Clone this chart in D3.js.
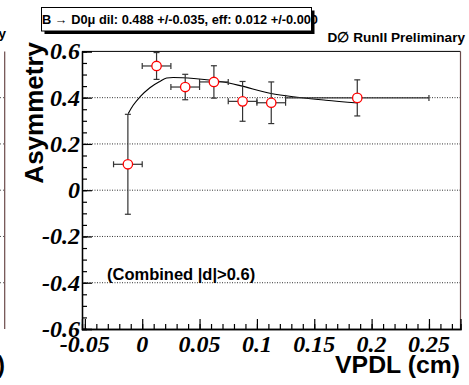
<!DOCTYPE html>
<html><head><meta charset="utf-8">
<script src="https://cdn.jsdelivr.net/npm/d3@7/dist/d3.min.js"></script>
<style>body{margin:0;background:#fff}svg{display:block}</style>
</head><body>
<script>
// ---- data ----
const binCenter = [-0.0125, 0.0125, 0.0375, 0.0625, 0.0875, 0.1125, 0.1875];
const binHalfWidth = [0.0125, 0.0125, 0.0125, 0.0125, 0.0125, 0.0125, 0.0625];
const asymmetry = [0.112, 0.537, 0.446, 0.468, 0.384, 0.378, 0.399];
const asymErr = [0.216, 0.058, 0.055, 0.070, 0.086, 0.090, 0.078];
const fitX = [-0.0122, -0.0079, -0.002, 0.0067, 0.0154, 0.0213, 0.027, 0.045, 0.0623, 0.0765, 0.0853, 0.1123, 0.135, 0.16, 0.188];
const fitY = [0.331, 0.367, 0.403, 0.443, 0.470, 0.485, 0.487, 0.483, 0.474, 0.462, 0.452, 0.418, 0.402, 0.389, 0.377];
const xTickValues = [-0.05, 0, 0.05, 0.1, 0.15, 0.2, 0.25];
const xTickLabels = ["-0.05", "0", "0.05", "0.1", "0.15", "0.2", "0.25"];
const yTickValues = [-0.6, -0.4, -0.2, 0, 0.2, 0.4, 0.6];
const yTickLabels = ["-0.6", "-0.4", "-0.2", "0", "0.2", "0.4", "0.6"];
const gridValues = [-0.4, -0.2, 0, 0.2, 0.4];
const titleText = "B \u2192 D0\u03bc dil: 0.488 +/-0.035, eff: 0.012 +/-0.000";
const expText = "D\u2205 RunII Preliminary";
const yTitle = "Asymmetry";
const xTitle = "VPDL (cm)";
const noteText = "(Combined |d|>0.6)";

const W = 469, H = 385;
const svg = d3.select("body").append("svg").attr("width", W).attr("height", H);
const x = d3.scaleLinear().domain([-0.0525, 0.2775]).range([82, 460.5]);
const y = d3.scaleLinear().domain([-0.6, 0.6]).range([329, 51.4]);
const sans = "'Liberation Sans', Arial, Helvetica, sans-serif";
const serif = "'Liberation Serif', 'Times New Roman', serif";

// left neighbour panel remnants
svg.append("line").attr("x1", 4.7).attr("x2", 4.7).attr("y1", y(0.6)).attr("y2", y(-0.6))
  .attr("stroke", "#6b4a4a").attr("stroke-width", 1.2);
gridValues.forEach(v => {
  svg.append("line").attr("x1", 0).attr("x2", 4).attr("y1", y(v)).attr("y2", y(v))
    .attr("stroke", "#555").attr("stroke-dasharray", "1,2");
});
svg.append("text").attr("x", 6).attr("y", 38).attr("text-anchor", "end")
  .attr("font-family", sans).attr("font-weight", "bold").attr("font-size", 13.5).text("y");
svg.append("text").attr("x", 5).attr("y", 373).attr("text-anchor", "end")
  .attr("font-family", sans).attr("font-weight", "bold").attr("font-size", 24).text(")");

// gridlines
svg.append("g").selectAll("line").data(gridValues).join("line")
  .attr("x1", x.range()[0]).attr("x2", x.range()[1])
  .attr("y1", d => y(d)).attr("y2", d => y(d))
  .attr("stroke", "#333").attr("stroke-width", 1).attr("stroke-dasharray", "1,1.5");

// frame
svg.append("line").attr("x1", 82).attr("x2", 460.5).attr("y1", y(0.6)).attr("y2", y(0.6)).attr("stroke", "#000");
svg.append("line").attr("x1", 460.5).attr("x2", 460.5).attr("y1", y(0.6)).attr("y2", y(-0.6)).attr("stroke", "#6b4a4a").attr("stroke-width", 1.2);

// axes (ticks inward)
const xAxis = d3.axisTop(x).tickValues(xTickValues).tickSize(10).tickFormat("");
const xMinor = d3.axisTop(x).tickValues(d3.range(-0.05, 0.2751, 0.01)).tickSize(5).tickFormat("");
const gx = svg.append("g").attr("transform", `translate(0,${y(-0.6)})`);
gx.append("g").call(xMinor);
gx.append("g").call(xAxis);
const yAxis = d3.axisRight(y).tickValues(yTickValues).tickSize(10).tickFormat("");
const yMinor = d3.axisRight(y).tickValues(d3.range(-0.6, 0.6001, 0.05)).tickSize(5).tickFormat("");
const gy = svg.append("g").attr("transform", `translate(${x.range()[0]},0)`);
gy.append("g").call(yMinor);
gy.append("g").call(yAxis);
svg.selectAll(".domain").attr("stroke", "#000").attr("stroke-width", 1.3);
svg.selectAll(".tick line").attr("stroke", "#000").attr("stroke-width", 1.2);

// tick labels
svg.append("g").selectAll("text").data(xTickValues).join("text")
  .attr("x", d => x(d)).attr("y", 351.5).attr("text-anchor", "middle")
  .style("font-family", serif).style("font-weight", "bold").style("font-style", "italic").style("font-size", "24px")
  .text((d, i) => xTickLabels[i]);
svg.append("g").selectAll("text").data(yTickValues).join("text")
  .attr("x", 80).attr("y", d => y(d)).attr("dy", "0.33em").attr("text-anchor", "end")
  .style("font-family", serif).style("font-weight", "bold").style("font-style", "italic").style("font-size", "24px")
  .text((d, i) => yTickLabels[i]);

// axis titles
svg.append("text").attr("x", 460).attr("y", 372.5).attr("text-anchor", "end")
  .attr("font-family", sans).attr("font-weight", "bold").attr("font-size", 24.8).text(xTitle);
svg.append("text").attr("transform", "translate(43,42) rotate(-90)").attr("text-anchor", "end")
  .attr("font-family", sans).attr("font-weight", "bold").attr("font-size", 26).text(yTitle);

// fit curve
const pts = fitX.map((d, i) => [d, fitY[i]]);
svg.append("path").attr("d", d3.line().x(d => x(d[0])).y(d => y(d[1])).curve(d3.curveMonotoneX)(pts))
  .attr("fill", "none").attr("stroke", "#000").attr("stroke-width", 1.1);

// error bars and markers
const g = svg.append("g");
binCenter.forEach((c, i) => {
  const cx = x(c), cy = y(asymmetry[i]);
  const x0 = x(c - binHalfWidth[i]), x1 = x(c + binHalfWidth[i]);
  const yt = Math.max(y(asymmetry[i] + asymErr[i]), y(0.6)), yb = y(asymmetry[i] - asymErr[i]);
  const col = "#333";
  g.append("line").attr("x1", cx).attr("x2", cx).attr("y1", yt).attr("y2", yb).attr("stroke", col).attr("stroke-width", 1.2);
  g.append("line").attr("x1", x0).attr("x2", x1).attr("y1", cy).attr("y2", cy).attr("stroke", col).attr("stroke-width", 1.2);
  g.append("line").attr("x1", cx - 3).attr("x2", cx + 3).attr("y1", yt).attr("y2", yt).attr("stroke", col).attr("stroke-width", 1.2);
  g.append("line").attr("x1", cx - 3).attr("x2", cx + 3).attr("y1", yb).attr("y2", yb).attr("stroke", col).attr("stroke-width", 1.2);
  g.append("line").attr("x1", x0).attr("x2", x0).attr("y1", cy - 3).attr("y2", cy + 3).attr("stroke", col).attr("stroke-width", 1.2);
  g.append("line").attr("x1", x1).attr("x2", x1).attr("y1", cy - 3).attr("y2", cy + 3).attr("stroke", col).attr("stroke-width", 1.2);
  g.append("circle").attr("cx", cx).attr("cy", cy).attr("r", 4.7)
    .attr("fill", "#fff").attr("stroke", "#f00").attr("stroke-width", 1.3);
});

// note
svg.append("text").attr("x", 107).attr("y", 280).attr("font-family", sans).attr("font-weight", "bold")
  .attr("font-size", 16.5).text(noteText);

// title box with shadow
svg.append("rect").attr("x", 44.5).attr("y", 10.5).attr("width", 270).attr("height", 23.5).attr("fill", "#000");
svg.append("rect").attr("x", 41.5).attr("y", 7.5).attr("width", 270).attr("height", 23.5)
  .attr("fill", "#fff").attr("stroke", "#000").attr("stroke-width", 1);
svg.append("text").attr("x", 42).attr("y", 24).attr("font-family", sans).attr("font-weight", "bold")
  .attr("font-size", 12.8).text(titleText);
svg.append("text").attr("x", 465).attr("y", 41.5).attr("text-anchor", "end").attr("font-family", sans)
  .attr("font-weight", "bold").attr("font-size", 13.6).text(expText);
</script>
</body></html>
